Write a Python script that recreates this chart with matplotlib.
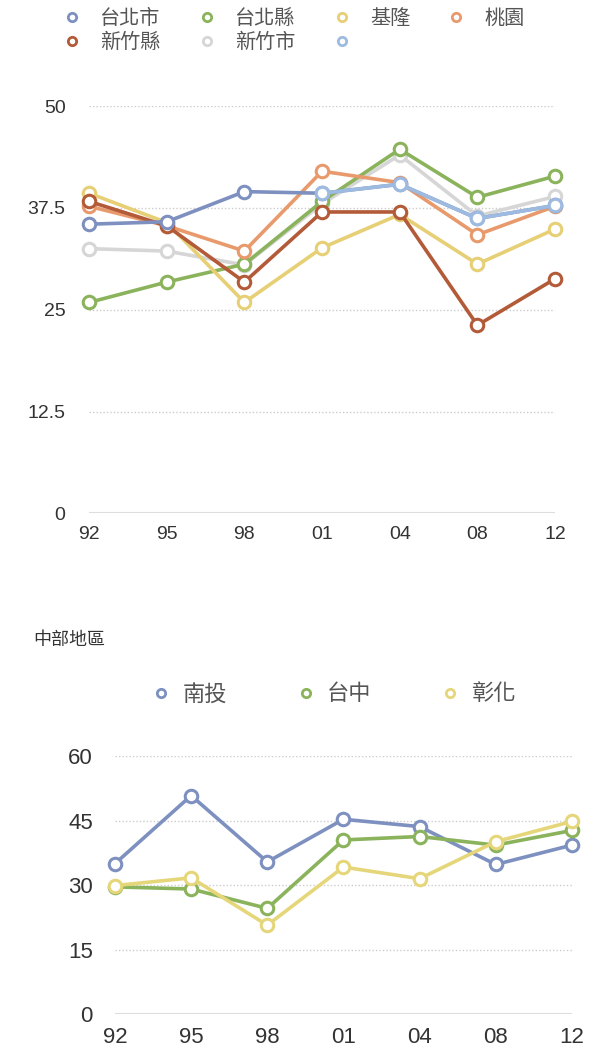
import matplotlib.pyplot as plt
from matplotlib.lines import Line2D

years = ['92', '95', '98', '01', '04', '08', '12']

# 北部 (top chart)
north_names = ['台北市', '台北縣', '基隆', '桃園', '新竹縣', '新竹市', '']
taipei_city = [35.5, 35.8, 39.5, 39.3, 40.4, 36.2, 37.8]
taipei_county = [25.9, 28.4, 30.6, 38.3, 44.7, 38.8, 41.4]
keelung = [39.3, 35.7, 25.9, 32.6, 36.7, 30.6, 34.9]
taoyuan = [37.7, 35.3, 32.2, 42.0, 40.6, 34.2, 37.7]
hsinchu_county = [38.3, 35.3, 28.4, 37.0, 37.0, 23.1, 28.8]
hsinchu_city = [32.5, 32.2, 30.5, 38.0, 44.0, 36.5, 38.9]
unnamed = [None, None, None, 39.3, 40.4, 36.2, 37.8]
north_ticks = [0, 12.5, 25, 37.5, 50]
north_tick_labels = ['0', '12.5', '25', '37.5', '50']

# 中部 (bottom chart)
central_names = ['南投', '台中', '彰化']
nantou = [35.0, 50.8, 35.4, 45.3, 43.6, 34.8, 39.3]
taichung = [29.6, 29.1, 24.6, 40.5, 41.3, 39.3, 42.7]
changhua = [29.9, 31.7, 20.7, 34.2, 31.5, 40.1, 44.8]
central_ticks = [0, 15, 30, 45, 60]

north_colors = ['#7d90bf', '#8bb35c', '#e6cf74', '#e89a6c', '#b35a38', '#d6d6d6', '#9dbbe0']
north_z = [4, 3, 3, 3, 3, 2, 5]
central_colors = ['#7d90bf', '#8bb35c', '#e6d67a']

cjk = ['Noto Sans CJK TC', 'DejaVu Sans']
num_font = 'Liberation Sans'

fig = plt.figure(figsize=(6.02, 10.5), dpi=100)


def draw(ax, series, colors, zs, ticks, labels, pad, fsize):
    x = list(range(len(years)))
    for vals, c, z in zip(series, colors, zs):
        xs = [i for i, v in zip(x, vals) if v is not None]
        ys = [v for v in vals if v is not None]
        ax.plot(xs, ys, color=c, lw=2.6, marker='o', ms=9, mfc='white',
                mec=c, mew=2.2, clip_on=False, zorder=z)
    ax.hlines(ticks[1:], 0, len(years) - 1, colors='#cccccc',
              linestyles=(0, (1, 1.5)), lw=1, zorder=1)
    ax.hlines(ticks[0], 0, len(years) - 1, colors='#dddddd', lw=1.5, zorder=1)
    ax.set_xlim(0, len(years) - 1)
    ax.set_ylim(ticks[0], ticks[-1])
    ax.set_xticks(x)
    ax.set_xticklabels(years, fontsize=fsize, family=num_font, color='#333333')
    ax.set_yticks(ticks)
    ax.set_yticklabels(labels, fontsize=fsize, family=num_font, color='#333333')
    ax.tick_params(length=0)
    ax.tick_params(axis='x', pad=9)
    ax.tick_params(axis='y', pad=pad)
    for s in ax.spines.values():
        s.set_visible(False)


ax1 = fig.add_axes([0.148, 0.511, 0.774, 0.388])
draw(ax1, [taipei_city, taipei_county, keelung, taoyuan, hsinchu_county, hsinchu_city, unnamed],
     north_colors, north_z, north_ticks, north_tick_labels, 17, 14)

# legend filled row by row (matplotlib fills columns first)
order = [0, 4, 1, 5, 2, 6, 3]
handles = [Line2D([], [], ls='none', marker='o', ms=6, mfc='white', mec=north_colors[i], mew=2)
           for i in order]
fig.legend(handles, [north_names[i] for i in order], loc='upper left',
           bbox_to_anchor=(0.106, 0.992), ncol=4, frameon=False, borderpad=0,
           borderaxespad=0, prop={'family': cjk, 'size': 14.5}, handletextpad=1.0,
           columnspacing=1.9, labelspacing=0.15, handlelength=0.8, labelcolor='#555555')

ax2 = fig.add_axes([0.191, 0.034, 0.759, 0.246])
draw(ax2, [nantou, taichung, changhua], central_colors, [3, 3, 3], central_ticks,
     [str(t) for t in central_ticks], 16, 16)

fig.text(0.055, 1 - 640 / 1050, '中部地區', family=cjk, fontsize=13, color='#333333', va='center')
handles2 = [Line2D([], [], ls='none', marker='o', ms=6, mfc='white', mec=c, mew=2) for c in central_colors]
fig.legend(handles2, central_names, loc='center left', bbox_to_anchor=(0.255, 1 - 694 / 1050),
           ncol=3, frameon=False, borderpad=0, borderaxespad=0,
           prop={'family': cjk, 'size': 16}, handletextpad=0.6,
           columnspacing=3.2, handlelength=0.7, labelcolor='#555555')

fig.savefig('out.png', dpi=100)
